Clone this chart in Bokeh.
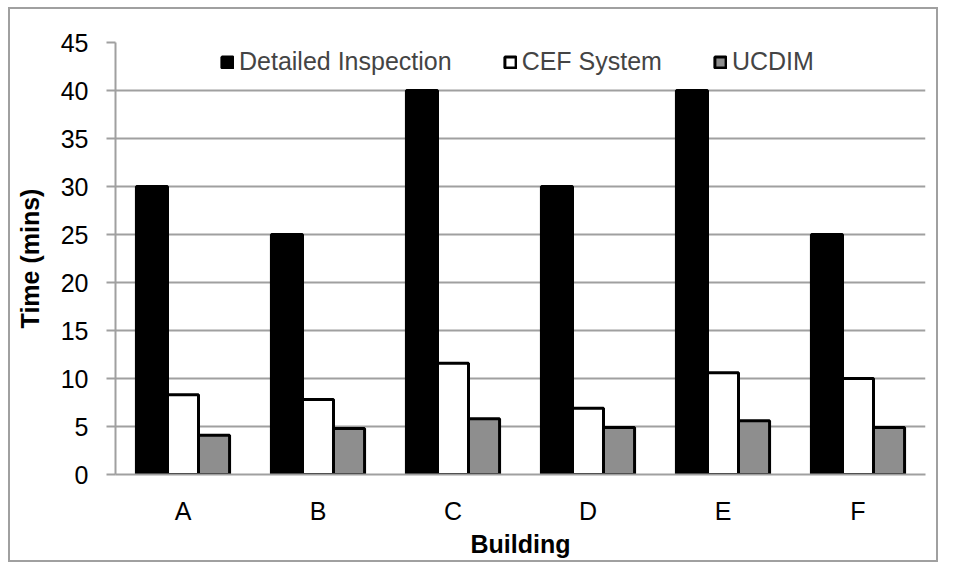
from bokeh.plotting import figure
from bokeh.models import ColumnDataSource, FactorRange, FixedTicker, Legend, LegendItem
from bokeh.transform import dodge
from bokeh.embed import file_html
from bokeh.resources import INLINE

buildings = ["A", "B", "C", "D", "E", "F"]
detailed = [30, 25, 40, 30, 40, 25]
cef = [8.3, 7.8, 11.6, 6.9, 10.6, 10.0]
ucdim = [4.1, 4.8, 5.8, 4.9, 5.6, 4.9]
series_names = ["Detailed Inspection", "CEF System", "UCDIM"]
y_ticks = [0, 5, 10, 15, 20, 25, 30, 35, 40, 45]

FONT = "Liberation Sans"
FS = "25px"
GRID = "#a0a0a0"

src = ColumnDataSource(dict(b=buildings, d=detailed, c=cef, u=ucdim))

p = figure(x_range=FactorRange(*buildings, range_padding=0), y_range=(0, 45),
           width=930, height=555, output_backend="svg", toolbar_location=None,
           min_border_left=105, min_border_right=15, min_border_top=33, min_border_bottom=90)
p.outline_line_color = None
p.styles = {"border": "2px solid #a0a0a0", "margin-left": "8px", "margin-top": "7px"}

bw = 0.23
r1 = p.vbar(x=dodge("b", -bw, range=p.x_range), top="d", width=bw, source=src,
            fill_color="black", line_color="black", line_width=3)
r2 = p.vbar(x=dodge("b", 0, range=p.x_range), top="c", width=bw, source=src,
            fill_color="white", line_color="black", line_width=3)
r3 = p.vbar(x=dodge("b", bw, range=p.x_range), top="u", width=bw, source=src,
            fill_color="#8e8e8e", line_color="black", line_width=3)

legend = Legend(items=[LegendItem(label=series_names[0], renderers=[r1]),
                       LegendItem(label=series_names[1], renderers=[r2]),
                       LegendItem(label=series_names[2], renderers=[r3])],
                orientation="horizontal", location=(94, 387), margin=0, padding=10,
                glyph_width=14, glyph_height=14, label_standoff=5, spacing=51,
                label_height=25,
                label_text_font=FONT, label_text_font_size=FS,
                background_fill_color="white", background_fill_alpha=1,
                border_line_color="white", border_line_width=1)
p.add_layout(legend, "center")

p.yaxis.ticker = FixedTicker(ticks=y_ticks)
p.ygrid.ticker = FixedTicker(ticks=y_ticks)
p.xgrid.grid_line_color = None
p.ygrid.grid_line_color = GRID
p.ygrid.grid_line_width = 2

for ax in (p.xaxis[0], p.yaxis[0]):
    ax.axis_line_color = GRID
    ax.axis_line_width = 2
    ax.major_label_text_font = FONT
    ax.major_label_text_font_size = FS
    ax.major_label_text_color = "black"
    ax.axis_label_text_font = FONT
    ax.axis_label_text_font_size = FS
    ax.axis_label_text_font_style = "bold"
    ax.axis_label_text_color = "black"
    ax.minor_tick_line_color = None

p.yaxis.major_tick_in = 0
p.yaxis.major_tick_out = 9
p.yaxis.major_tick_line_color = GRID
p.yaxis.major_tick_line_width = 2
p.yaxis.major_label_standoff = 18
p.yaxis.axis_label = "Time (mins)"
p.yaxis.axis_label_standoff = 14

p.xaxis.major_tick_line_color = None
p.xaxis.major_tick_out = 0
p.xaxis.major_tick_in = 0
p.xaxis.major_label_standoff = 22
p.xaxis.axis_label = "Building"
p.xaxis.axis_label_standoff = 2

open("out.html", "w").write(file_html(p, INLINE))
